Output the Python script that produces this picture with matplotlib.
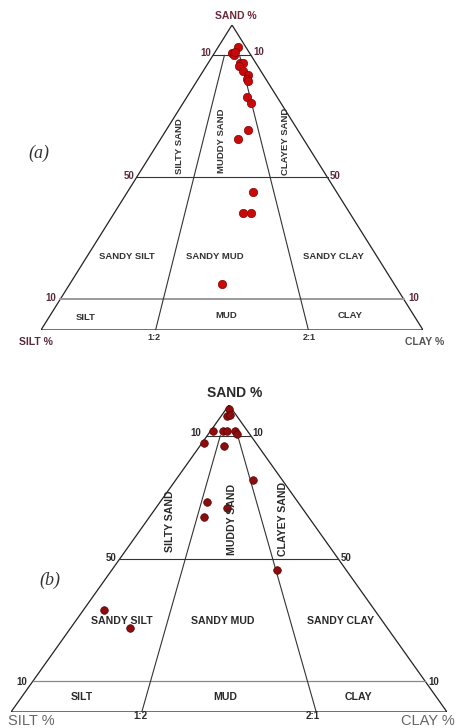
import matplotlib
matplotlib.use("Agg")
import matplotlib.pyplot as plt
import numpy as np

# ---- data (percent) ----
sand_a = [92.8, 90.8, 90.2, 91.1, 87.5, 87.5, 86.6, 84.9, 83.6, 82.3, 81.6, 76.4, 74.4, 65.6, 62.6, 45.2, 38.4, 38.4, 15.1]
silt_a = [2.0, 4.6, 4.4, 3.7, 4.2, 3.4, 4.9, 4.7, 4.0, 4.9, 5.0, 7.9, 7.8, 13.0, 17.1, 21.9, 27.9, 25.8, 45.1]
clay_a = [5.2, 4.6, 5.4, 5.2, 8.3, 9.1, 8.5, 10.4, 12.4, 12.8, 13.4, 15.7, 17.8, 21.4, 20.3, 32.9, 33.7, 35.8, 39.8]

sand_b = [98.7, 96.4, 96.7, 91.5, 91.5, 91.5, 91.5, 90.6, 87.6, 86.6, 75.6, 68.4, 63.5, 66.4, 46.3, 33.2, 27.4]
silt_b = [0.6, 2.3, 1.5, 8.0, 5.6, 4.7, 2.9, 2.9, 11.9, 7.8, 6.7, 20.8, 24.0, 17.3, 15.8, 62.1, 59.0]
clay_b = [0.7, 1.3, 1.8, 0.5, 2.9, 3.8, 5.6, 6.5, 0.5, 5.6, 17.7, 10.8, 12.5, 16.3, 37.9, 4.7, 13.6]

sand_levels = [90, 50, 10]
ratio_fracs = [0.30, 0.70]   # clay share of mud for the 1:2 and 2:1 boundaries (as drawn)
ratio_labels = ["1:2", "2:1"]

W, H = 459, 728
fig = plt.figure(figsize=(W / 100, H / 100), dpi=100)


def tern_xy(sand, clay):
    s = np.asarray(sand, float) / 100.0
    c = np.asarray(clay, float) / 100.0
    return c + s / 2.0, s


def ftext(px, py, s, **kw):
    fig.text(px / W, 1 - py / H, s, **kw)


def draw_panel(box, sand, silt, clay, pcol, psize, sty):
    left, top, right, bottom = box
    ax = fig.add_axes([left / W, 1 - bottom / H, (right - left) / W, (bottom - top) / H])
    ax.set_xlim(0, 1)
    ax.set_ylim(0, 1)
    ax.axis("off")
    ax.plot([0, 0.5, 1, 0], [0, 1, 0, 0], color="#222222", lw=0.9, solid_joinstyle="miter")
    for lv in sand_levels:
        s = lv / 100
        col = sty["lowcol"] if lv == 10 else "#333333"
        lw = sty["lowlw"] if lv == 10 else 0.8
        ax.plot([s / 2, 1 - s / 2], [s, s], color=col, lw=lw)
    for f in ratio_fracs:
        s = np.array([0.9, 0.0])
        ax.plot(f * (1 - s) + s / 2, s, color="#333333", lw=0.8)
    x, y = tern_xy(sand, clay)
    ax.scatter(x, y, s=psize, color=pcol, edgecolors=sty["edge"], linewidths=0.5, zorder=5)
    return ax


# ---------------- panel (a) ----------------
sty_a = dict(lowcol="#9a9a9a", lowlw=1.4, edge="#8a0000")
draw_panel((41, 25, 423, 330), sand_a, silt_a, clay_a, "#c80a0a", 36, sty_a)
fa = 6.8
lab = dict(fontfamily="Liberation Sans", fontweight="bold", color="#333333")
ftext(236, 16, "SAND %", fontsize=7.5, ha="center", va="center", fontfamily="Liberation Sans",
      fontweight="bold", color="#6a2a3a")
ftext(36, 342, "SILT %", fontsize=7.5, ha="center", va="center", fontfamily="Liberation Sans",
      fontweight="bold", color="#5a2a3a")
ftext(425, 342, "CLAY %", fontsize=7.5, ha="center", va="center", fontfamily="Liberation Sans",
      fontweight="bold", color="#555555")
tk = dict(fontsize=7, va="center", fontfamily="Liberation Sans", fontweight="bold", color="#5a2a3a")
ftext(211, 53, "10", ha="right", **tk)
ftext(253, 52, "10", ha="left", **tk)
ftext(134, 176, "50", ha="right", **tk)
ftext(330, 176, "50", ha="left", **tk)
ftext(56, 298, "10", ha="right", **tk)
ftext(408, 298, "10", ha="left", **tk)
ftext(154, 337, ratio_labels[0], ha="center", fontsize=6.5, va="center", **lab)
ftext(309, 337, ratio_labels[1], ha="center", fontsize=6.5, va="center", **lab)
ftext(86, 317, "SILT", ha="center", va="center", fontsize=fa, **lab)
ftext(226, 315, "MUD", ha="center", va="center", fontsize=fa, **lab)
ftext(350, 315, "CLAY", ha="center", va="center", fontsize=fa, **lab)
ftext(127, 256, "SANDY SILT", ha="center", va="center", fontsize=fa, **lab)
ftext(215, 256, "SANDY MUD", ha="center", va="center", fontsize=fa, **lab)
ftext(333, 256, "SANDY CLAY", ha="center", va="center", fontsize=fa, **lab)
ftext(179, 146, "SILTY SAND", ha="center", va="center", fontsize=fa, rotation=90, **lab)
ftext(221, 141, "MUDDY SAND", ha="center", va="center", fontsize=fa, rotation=90, **lab)
ftext(285, 141, "CLAYEY SAND", ha="center", va="center", fontsize=fa, rotation=90, **lab)
ftext(39, 153, "(a)", ha="center", va="center", fontsize=13, fontstyle="italic",
      fontfamily="Liberation Serif", color="#333333")

# ---------------- panel (b) ----------------
sty_b = dict(lowcol="#8a8a8a", lowlw=0.9, edge="#5a0000")
draw_panel((11, 405, 447, 712), sand_b, silt_b, clay_b, "#8b0d0d", 30, sty_b)
fb = 7.6
labb = dict(fontfamily="Liberation Sans", fontweight="bold", color="#2a2a2a")
ftext(235, 393, "SAND %", fontsize=10, ha="center", va="center", **labb)
ftext(31, 721, "SILT %", fontsize=10.5, ha="center", va="center", fontfamily="Liberation Sans",
      color="#666666")
ftext(428, 721, "CLAY %", fontsize=10.5, ha="center", va="center", fontfamily="Liberation Sans",
      color="#666666")
tkb = dict(fontsize=7, va="center", fontfamily="Liberation Sans", fontweight="bold", color="#2a2a2a")
ftext(201, 433, "10", ha="right", **tkb)
ftext(252, 433, "10", ha="left", **tkb)
ftext(116, 558, "50", ha="right", **tkb)
ftext(341, 558, "50", ha="left", **tkb)
ftext(27, 682, "10", ha="right", **tkb)
ftext(428, 682, "10", ha="left", **tkb)
ftext(140, 716, ratio_labels[0], ha="center", fontsize=7, va="center", **labb)
ftext(313, 716, ratio_labels[1], ha="center", fontsize=7, va="center", **labb)
ftext(82, 697, "SILT", ha="center", va="center", fontsize=fb, **labb)
ftext(225, 697, "MUD", ha="center", va="center", fontsize=fb, **labb)
ftext(358, 697, "CLAY", ha="center", va="center", fontsize=fb, **labb)
ftext(122, 621, "SANDY SILT", ha="center", va="center", fontsize=fb, **labb)
ftext(223, 621, "SANDY MUD", ha="center", va="center", fontsize=fb, **labb)
ftext(341, 621, "SANDY CLAY", ha="center", va="center", fontsize=fb, **labb)
ftext(170, 521, "SILTY SAND", ha="center", va="center", fontsize=fb, rotation=90, **labb)
ftext(232, 519, "MUDDY SAND", ha="center", va="center", fontsize=fb, rotation=90, **labb)
ftext(283, 519, "CLAYEY SAND", ha="center", va="center", fontsize=fb, rotation=90, **labb)
ftext(50, 580, "(b)", ha="center", va="center", fontsize=13, fontstyle="italic",
      fontfamily="Liberation Serif", color="#333333")

fig.savefig("out.png", dpi=100, facecolor="white")
